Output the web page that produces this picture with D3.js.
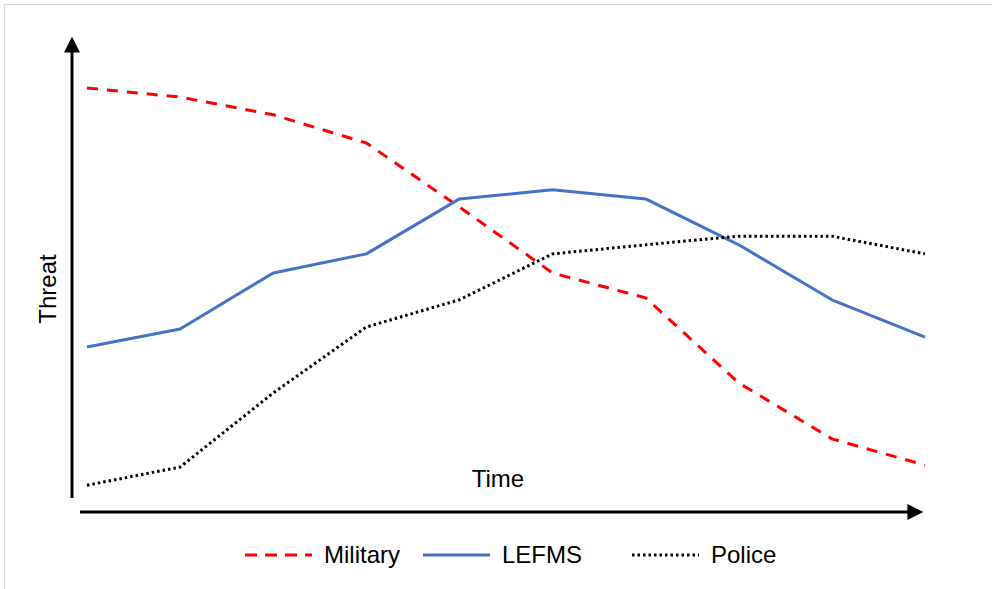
<!DOCTYPE html>
<html>
<head>
<meta charset="utf-8">
<script src="https://cdn.jsdelivr.net/npm/d3@7"></script>
<style>
  body { margin: 0; background: #fff; }
  text { font-family: "Liberation Sans", Arial, sans-serif; fill: #000; }
</style>
</head>
<body>
<div class="chart"></div>
<script>
var svgWidth = 992;
var svgHeight = 589;

// data (threat on an arbitrary 0-100 scale)
var periods = [1, 2, 3, 4, 5, 6, 7, 8, 9, 10];
var military = [88.7, 86.8, 83.1, 77.2, 63.8, 50.0, 44.8, 27.0, 15.3, 9.8];
var lefms = [34.5, 38.3, 50.0, 54.0, 65.5, 67.4, 65.5, 55.9, 44.4, 36.6];
var police = [5.6, 9.4, 24.9, 38.7, 44.4, 54.0, 55.9, 57.7, 57.7, 54.0];
var seriesNames = ["Military", "LEFMS", "Police"];

var svg = d3
  .select(".chart")
  .append("svg")
  .attr("width", svgWidth)
  .attr("height", svgHeight);

// light frame
svg.append("rect")
  .attr("x", 4.5)
  .attr("y", 4.5)
  .attr("width", svgWidth)
  .attr("height", svgHeight)
  .attr("fill", "none")
  .attr("stroke", "#d9d9d9")
  .attr("stroke-width", 1);

var xScale = d3.scalePoint()
  .domain(periods)
  .range([87, 925]);

var yScale = d3.scaleLinear()
  .domain([0, 100])
  .range([512, 34]);

// arrow heads
var defs = svg.append("defs");
defs.append("marker")
  .attr("id", "arrow")
  .attr("viewBox", "0 0 10 10")
  .attr("refX", 1)
  .attr("refY", 5)
  .attr("markerUnits", "userSpaceOnUse")
  .attr("markerWidth", 16)
  .attr("markerHeight", 17)
  .attr("orient", "auto")
  .append("path")
  .attr("d", "M0,0 L10,5 L0,10 Z")
  .attr("fill", "#000");

// y axis
svg.append("line")
  .attr("x1", 72).attr("y1", 498)
  .attr("x2", 72).attr("y2", 51)
  .attr("stroke", "#000")
  .attr("stroke-width", 3)
  .attr("marker-end", "url(#arrow)");

// x axis
svg.append("line")
  .attr("x1", 80).attr("y1", 512)
  .attr("x2", 909).attr("y2", 512)
  .attr("stroke", "#000")
  .attr("stroke-width", 3)
  .attr("marker-end", "url(#arrow)");

var styles = {
  Military: { color: "#ff0000", dash: "11,9" },
  LEFMS: { color: "#4472c4", dash: null },
  Police: { color: "#000000", dash: "2.5,3" }
};
var values = { Military: military, LEFMS: lefms, Police: police };

var line = d3.line()
  .x(function(d, i) { return xScale(periods[i]); })
  .y(function(d) { return yScale(d); });

seriesNames.forEach(function(name) {
  svg.append("path")
    .datum(values[name])
    .attr("d", line)
    .attr("fill", "none")
    .attr("stroke", styles[name].color)
    .attr("stroke-width", 3)
    .attr("stroke-linejoin", "round")
    .attr("stroke-dasharray", styles[name].dash);
});

// axis titles
svg.append("text")
  .attr("x", 498)
  .attr("y", 487)
  .attr("text-anchor", "middle")
  .style("font-size", "24px")
  .text("Time");

svg.append("text")
  .attr("transform", "translate(56, 289) rotate(-90)")
  .attr("text-anchor", "middle")
  .style("font-size", "24px")
  .text("Threat");

// legend
var legendX = [245, 423, 632];
var legend = svg.append("g");
seriesNames.forEach(function(name, i) {
  legend.append("line")
    .attr("x1", legendX[i]).attr("y1", 555)
    .attr("x2", legendX[i] + 67).attr("y2", 555)
    .attr("stroke", styles[name].color)
    .attr("stroke-width", 3)
    .attr("stroke-dasharray", name === "Military" ? "12,8" : styles[name].dash);
  legend.append("text")
    .attr("x", legendX[i] + 79)
    .attr("y", 563)
    .style("font-size", "24px")
    .text(name);
});
</script>
</body>
</html>
